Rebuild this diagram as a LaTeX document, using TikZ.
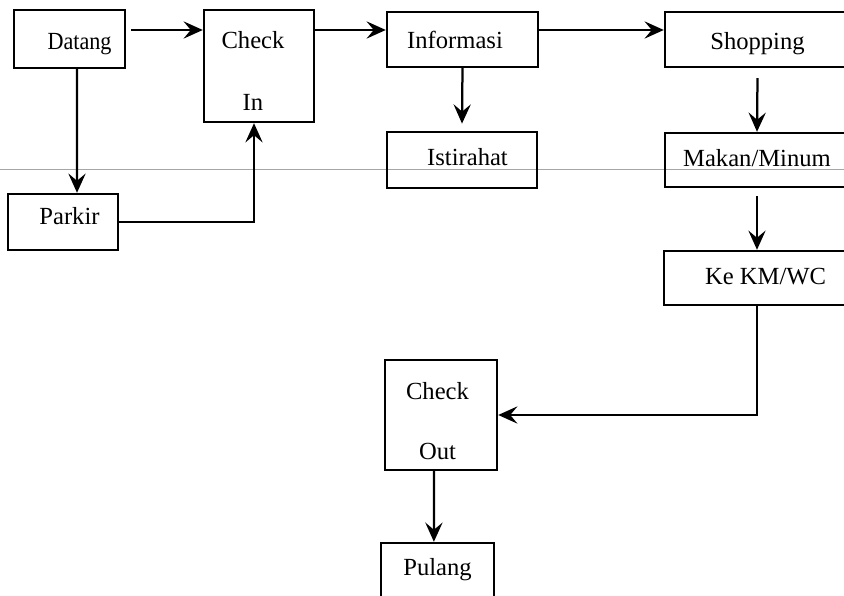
\documentclass[tikz,border=0pt]{standalone}
\usepackage{fontspec}
\setmainfont{Liberation Serif}
\usepackage{xcolor}
\usepackage{tikz}
\usetikzlibrary{calc,arrows.meta,positioning}
\tikzset{
  box/.style={draw=black,line width=1.7pt,inner sep=0pt,align=center,
    text height=12pt,text depth=4pt,font=\fontsize{17.5}{21}\selectfont},
  ar/.style={-{Stealth[length=4.8mm,width=4.3mm,inset=1.8mm]},line width=1.6pt},
  scan/.style={gray!70,line width=0.4pt}
}
\begin{document}
\begin{tikzpicture}[x=0.025cm,y=-0.025cm]
\useasboundingbox (0,0) rectangle (844,596);
\draw[scan] (0,169)--(844,169);
% top row
\node[box,minimum width=27.75mm,minimum height=14.5mm,text height=18.4pt] (datang) at (69.5,39) {\hspace*{5mm}\scalebox{0.9}[1]{Datang}};
\node[box,minimum width=27.5mm,minimum height=28mm,text height=63.8pt,text depth=0pt] (checkin) at (259,66) {Check\hspace*{3mm}\\[23pt]In\hspace*{3mm}};
\node[box,minimum width=37.75mm,minimum height=13.75mm,text height=16.6pt] (info) at (462.5,39.5) {Informasi\hspace*{3.75mm}};
\node[box,minimum width=46.25mm,minimum height=13.75mm,text height=18pt] (shop) at (757.5,39.5) {Shopping};
% second row
\node[box,minimum width=37.5mm,minimum height=14mm] (istirahat) at (462,160) {\hspace*{2.75mm}Istirahat};
\node[box,minimum width=46mm,minimum height=13.5mm,text height=13pt] (makan) at (757,160) {Makan/Minum};
\node[box,minimum width=27.5mm,minimum height=14mm,text height=8.2pt] (parkir) at (63,222) {\hspace*{3.25mm}Parkir};
\node[box,minimum width=46.5mm,minimum height=13.5mm,text height=13pt] (kmwc) at (757,278) {\hspace*{4.25mm}Ke KM/WC};
% bottom
\node[box,minimum width=28mm,minimum height=27.5mm,text height=62.6pt,text depth=0pt] (checkout) at (441,415) {Check\hspace*{1.75mm}\\[21pt]Out\hspace*{1.75mm}};
\node[box,minimum width=28.25mm,minimum height=14.25mm,text height=10.2pt] (pulang) at (437.5,571.5) {Pulang};
% arrows
\coordinate (a1) at ($(datang.east)+(5,-9)$);
\draw[ar] (a1) -- (a1 -| checkin.west);
\draw[ar] (checkin.east |- a1) -- (a1 -| info.west);
\draw[ar] (info.east |- a1) -- (a1 -| shop.west);
\draw[ar] ([xshift=1.9mm]datang.south) -- ([xshift=3.5mm]parkir.north);
\draw[ar] (parkir.east) -| ([xshift=-1.25mm]checkin.south);
\draw[ar] (info.south) -- ([yshift=1.8mm]istirahat.north);
\draw[ar] ([yshift=-2.5mm]shop.south) -- (makan.north);
\draw[ar] ([yshift=-2mm]makan.south) -- (kmwc.north);
\draw[ar] (kmwc.south) |- (checkout.east);
\draw[ar] ([xshift=-1.75mm]checkout.south) -- ([xshift=-0.9mm]pulang.north);
\end{tikzpicture}
\end{document}
